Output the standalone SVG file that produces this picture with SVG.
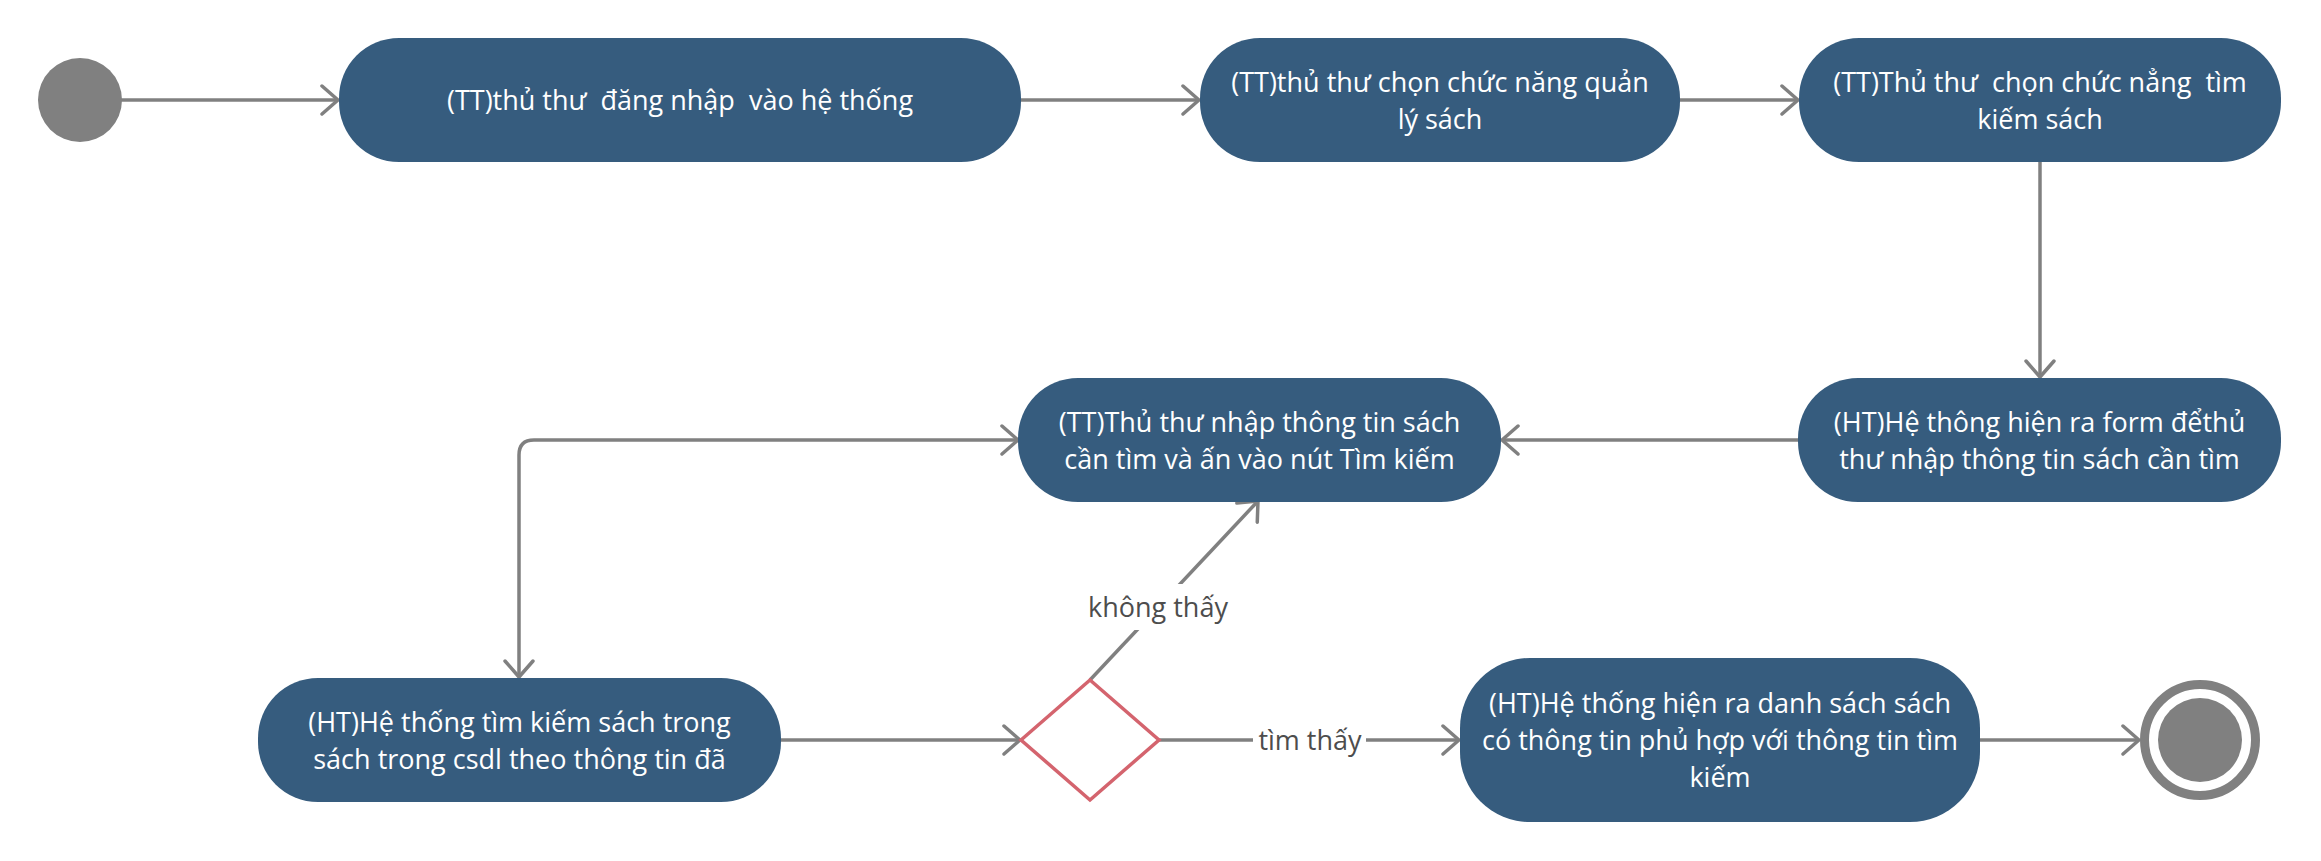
<svg xmlns="http://www.w3.org/2000/svg" width="2321" height="861" viewBox="0 0 2321 861">
<style>
.node{fill:#365c7e;}
.nt{font-family:"Open Sans","Noto Sans","Liberation Sans",sans-serif;font-size:27px;fill:#ffffff;text-anchor:middle;white-space:pre;}
.lbl{font-family:"Open Sans","Noto Sans","Liberation Sans",sans-serif;font-size:27px;fill:#4d4d4d;text-anchor:middle;}
.edge{fill:none;stroke:#808080;stroke-width:3.5;}
.arr{marker-end:url(#ah);}
</style>
<defs>
<marker id="ah" viewBox="-18 -16 20 32" refX="0" refY="0" markerWidth="20" markerHeight="32" markerUnits="userSpaceOnUse" orient="auto-start-reverse">
<path d="M-16,-14 L0,0 L-16,14" fill="none" stroke="#808080" stroke-width="3.5" stroke-linecap="round" stroke-linejoin="round"/>
</marker>
</defs>
<rect width="2321" height="861" fill="#ffffff"/>
<g id="connectors">
<path class="edge arr" d="M121,100 H338"/>
<path class="edge arr" d="M1021,100 H1199"/>
<path class="edge arr" d="M1680,100 H1798"/>
<path class="edge arr" d="M2040,161 V377"/>
<path class="edge arr" d="M1798,440 H1502"/>
<path class="edge arr" d="M1018,440 H534 Q519,440 519,455 V677" marker-start="url(#ah)"/>
<path class="edge arr" d="M781,740 H1020"/>
<path class="edge arr" d="M1090,680 L1258,501"/>
<path class="edge arr" d="M1159,740 H1459"/>
<path class="edge arr" d="M1980,740 H2139"/>
<rect x="1084" y="584" width="148" height="46" fill="#ffffff"/>
<text class="lbl" x="1158" y="617">không thấy</text>
<rect x="1253" y="720" width="113" height="42" fill="#ffffff"/>
<text class="lbl" x="1310" y="750">tìm thấy</text>
</g>
<g id="start">
<circle cx="80" cy="100" r="42" fill="#808080"/>
</g>
<g id="n1">
<rect class="node" x="339" y="38" width="682" height="124" rx="60" ry="60"/>
<text class="nt" x="680" y="110">(TT)thủ thư  đăng nhập  vào hệ thống</text>
</g>
<g id="n2">
<rect class="node" x="1200" y="38" width="480" height="124" rx="60" ry="60"/>
<text class="nt" x="1440" y="91.5">(TT)thủ thư chọn chức năng quản</text>
<text class="nt" x="1440" y="128.5">lý sách</text>
</g>
<g id="n3">
<rect class="node" x="1799" y="38" width="482" height="124" rx="60" ry="60"/>
<text class="nt" x="2040" y="91.5">(TT)Thủ thư  chọn chức nẳng  tìm</text>
<text class="nt" x="2040" y="128.5">kiếm sách</text>
</g>
<g id="n5">
<rect class="node" x="1798" y="378" width="483" height="124" rx="60" ry="60"/>
<text class="nt" x="2039.5" y="432">(HT)Hệ thông hiện ra form đểthủ</text>
<text class="nt" x="2039.5" y="469">thư nhập thông tin sách cần tìm</text>
</g>
<g id="n4">
<rect class="node" x="1018" y="378" width="483" height="124" rx="60" ry="60"/>
<text class="nt" x="1259.5" y="432">(TT)Thủ thư nhập thông tin sách</text>
<text class="nt" x="1259.5" y="469">cần tìm và ấn vào nút Tìm kiếm</text>
</g>
<g id="n6">
<rect class="node" x="258" y="678" width="523" height="124" rx="60" ry="60"/>
<text class="nt" x="519.5" y="732">(HT)Hệ thống tìm kiếm sách trong</text>
<text class="nt" x="519.5" y="769">sách trong csdl theo thông tin đã</text>
</g>
<g id="decision">
<polygon points="1021,740 1090,680 1159,740 1090,800" fill="#ffffff" stroke="#d4646e" stroke-width="3.5"/>
</g>
<g id="n7">
<rect class="node" x="1460" y="658" width="520" height="164" rx="70" ry="70"/>
<text class="nt" x="1720" y="713">(HT)Hệ thống hiện ra danh sách sách</text>
<text class="nt" x="1720" y="750">có thông tin phủ hợp với thông tin tìm</text>
<text class="nt" x="1720" y="787">kiếm</text>
</g>
<g id="end">
<circle cx="2200" cy="740" r="55.5" fill="#ffffff" stroke="#808080" stroke-width="9"/>
<circle cx="2200" cy="740" r="42" fill="#808080"/>
</g>
</svg>
